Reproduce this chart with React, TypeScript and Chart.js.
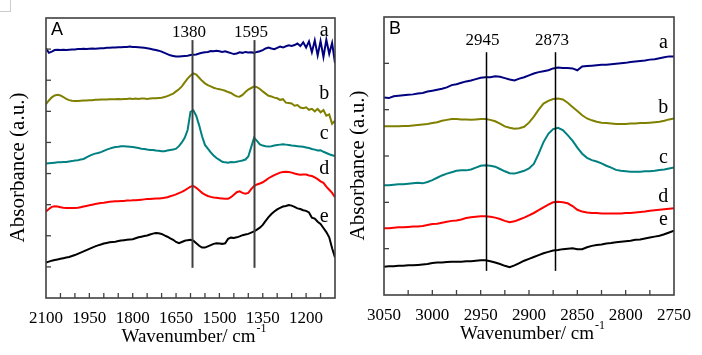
import React, { useEffect, useRef } from "react";
import { Chart, registerables } from "chart.js";
Chart.register(...registerables);

const SERIF = "'Liberation Serif', serif";
const SANS = "'Liberation Sans', sans-serif";
Chart.defaults.font.family = SERIF;

// ---------- Panel A (2100 - 1100 cm-1) ----------
const wavenumbersA = [
  2100, 2090, 2080, 2070, 2060, 2050, 2040, 2030, 2020, 2010,
  2000, 1990, 1980, 1970, 1960, 1950, 1940, 1930, 1920, 1910,
  1900, 1890, 1880, 1870, 1860, 1850, 1840, 1830, 1820, 1810,
  1800, 1790, 1780, 1770, 1760, 1750, 1740, 1730, 1720, 1710,
  1700, 1690, 1680, 1670, 1660, 1650, 1640, 1630, 1620, 1610,
  1600, 1590, 1580, 1570, 1560, 1550, 1540, 1530, 1520, 1510,
  1500, 1490, 1480, 1470, 1460, 1450, 1440, 1430, 1420, 1410,
  1400, 1390, 1380, 1370, 1360, 1350, 1340, 1330, 1320, 1310,
  1300, 1290, 1280, 1270, 1260, 1250, 1240, 1230, 1220, 1210,
  1200, 1190, 1180, 1170, 1160, 1150, 1140, 1130, 1120, 1110,
  1100,
];

const seriesA_a = [
  8.02, 7.88, 7.92, 7.97, 7.98, 7.97, 7.98, 7.97, 7.98, 7.99,
  7.99, 8.0, 8.0, 8.01, 8.0, 8.01, 8.02, 8.01, 8.02, 8.03,
  8.03, 8.04, 8.04, 8.05, 8.05, 8.06, 8.06, 8.07, 8.07, 8.08,
  8.07, 8.07, 8.06, 8.05, 8.04, 8.03, 8.01, 7.99, 7.97, 7.95,
  7.92, 7.88, 7.84, 7.8, 7.78, 7.76, 7.76, 7.77, 7.78, 7.79,
  7.81, 7.82, 7.83, 7.86, 7.88, 7.9, 7.91, 7.94, 7.93, 7.95,
  7.93, 7.91, 7.93, 7.9, 7.87, 7.84, 7.86, 7.9, 7.88, 7.91,
  7.89, 7.9, 7.88, 7.91, 7.93, 7.97, 8.02, 8.05, 8.02, 8.0,
  8.04, 8.08, 8.05, 8.09, 8.12, 8.1, 8.13, 8.18, 8.1, 8.22,
  8.05, 8.25, 7.9, 8.28, 7.8, 8.26, 7.75, 8.3, 7.85, 8.2,
  7.55,
];
const seriesA_b = [
  6.23, 6.35, 6.45, 6.51, 6.53, 6.51, 6.46, 6.4, 6.36, 6.34,
  6.33, 6.33, 6.34, 6.35, 6.35, 6.36, 6.36, 6.37, 6.37, 6.38,
  6.38, 6.38, 6.39, 6.39, 6.39, 6.4, 6.39, 6.4, 6.4, 6.41,
  6.4, 6.41, 6.4, 6.41, 6.41, 6.4, 6.41, 6.42, 6.42, 6.43,
  6.44, 6.46, 6.49, 6.53, 6.57, 6.64, 6.71, 6.8, 6.93, 7.05,
  7.15, 7.22, 7.18, 7.08, 6.98, 6.9, 6.84, 6.8, 6.76, 6.73,
  6.71, 6.69, 6.66, 6.62, 6.59, 6.53, 6.48, 6.47, 6.53, 6.62,
  6.7, 6.75, 6.8, 6.78, 6.72, 6.64, 6.57, 6.5, 6.48, 6.44,
  6.42, 6.37, 6.39, 6.28, 6.27, 6.25, 6.18, 6.2, 6.12, 6.1,
  6.13, 6.05, 6.08, 6.0, 6.08, 5.97, 6.04, 5.86, 5.9, 5.6,
  5.7,
];
const seriesA_c = [
  4.32, 4.33, 4.34, 4.35, 4.36, 4.36, 4.37, 4.37, 4.39, 4.4,
  4.42, 4.43, 4.45, 4.47, 4.52, 4.57, 4.61, 4.64, 4.66, 4.69,
  4.73, 4.77, 4.8, 4.83, 4.85, 4.86, 4.88, 4.88, 4.87, 4.86,
  4.85, 4.84, 4.82, 4.8, 4.79, 4.77, 4.76, 4.76, 4.74, 4.73,
  4.72, 4.72, 4.74, 4.76, 4.77, 4.8, 4.88, 5.0, 5.15, 5.4,
  5.98, 6.03, 5.85, 5.55, 5.2, 4.92, 4.8, 4.68, 4.58, 4.5,
  4.44, 4.38, 4.36, 4.35, 4.37, 4.36, 4.38, 4.4, 4.42, 4.45,
  4.55, 4.85, 5.15, 5.05, 4.94, 4.9, 4.88, 4.87, 4.88, 4.9,
  4.92, 4.93, 4.94, 4.93, 4.92, 4.9, 4.89, 4.88, 4.87, 4.86,
  4.84, 4.82, 4.79, 4.77, 4.74, 4.75, 4.7, 4.66, 4.62, 4.59,
  4.56,
];
const seriesA_d = [
  2.78, 2.86, 2.93, 2.95, 2.94, 2.92, 2.9, 2.89, 2.89, 2.89,
  2.89, 2.9, 2.92, 2.94, 2.96, 2.98, 3.0, 3.02, 3.04, 3.05,
  3.06, 3.08, 3.09, 3.1, 3.11, 3.11, 3.12, 3.12, 3.13, 3.13,
  3.14, 3.14, 3.15, 3.16, 3.17, 3.18, 3.18, 3.19, 3.2, 3.2,
  3.21, 3.22, 3.24, 3.27, 3.3, 3.33, 3.37, 3.41, 3.46, 3.52,
  3.58, 3.6, 3.54, 3.46, 3.38, 3.32, 3.28, 3.25, 3.23, 3.22,
  3.21, 3.2, 3.19, 3.19, 3.24, 3.32, 3.4, 3.43, 3.38, 3.35,
  3.38, 3.5, 3.6, 3.65, 3.68, 3.72, 3.78, 3.85, 3.9, 3.95,
  3.99, 4.03, 4.05, 4.06, 4.05, 4.03, 4.0, 3.98, 3.96, 3.97,
  3.97, 3.94, 3.92, 3.88, 3.82, 3.75, 3.7, 3.58, 3.48, 3.38,
  3.24,
];
const seriesA_e = [
  1.14, 1.17, 1.2, 1.22, 1.24, 1.26, 1.28, 1.3, 1.32, 1.35,
  1.38, 1.42, 1.46, 1.5, 1.54, 1.58, 1.62, 1.66, 1.69, 1.72,
  1.75, 1.77, 1.79, 1.8, 1.81, 1.83, 1.85, 1.86, 1.87, 1.88,
  1.89, 1.92, 1.95, 1.97, 1.99, 2.01, 2.04, 2.07, 2.09, 2.08,
  2.06, 2.01, 1.97, 1.92, 1.87, 1.8, 1.76, 1.8, 1.84, 1.86,
  1.87, 1.84, 1.76, 1.68, 1.62, 1.62, 1.66, 1.7, 1.74, 1.76,
  1.75, 1.74, 1.76, 1.9, 1.94, 1.93, 1.95, 1.98, 2.02, 2.04,
  2.06, 2.1, 2.14, 2.2, 2.26, 2.35, 2.48, 2.6, 2.7, 2.78,
  2.85, 2.9, 2.94, 2.96, 2.99, 2.97, 2.93, 2.88, 2.86, 2.82,
  2.8, 2.75, 2.58, 2.55, 2.45, 2.38, 2.25, 2.12, 1.95, 1.6,
  1.3,
];
const xTickLabelsA = [2100, 1950, 1800, 1650, 1500, 1350, 1200];
const peakLinesA = [1595, 1380];
const peakTextsA = ["1380", "1595"];

// ---------- Panel B (3050 - 2750 cm-1) ----------
const wavenumbersB = [
  3050, 3045, 3040, 3035, 3030, 3025, 3020, 3015, 3010, 3005,
  3000, 2995, 2990, 2985, 2980, 2975, 2970, 2965, 2960, 2955,
  2950, 2945, 2940, 2935, 2930, 2925, 2920, 2915, 2910, 2905,
  2900, 2895, 2890, 2885, 2880, 2875, 2870, 2865, 2860, 2855,
  2850, 2845, 2840, 2835, 2830, 2825, 2820, 2815, 2810, 2805,
  2800, 2795, 2790, 2785, 2780, 2775, 2770, 2765, 2760, 2755,
  2750,
];
const seriesB_a = [
  4.26, 4.25, 4.29, 4.3, 4.31, 4.32, 4.33, 4.35, 4.36, 4.39,
  4.41, 4.43, 4.45, 4.48, 4.53, 4.55, 4.58, 4.61, 4.63, 4.66,
  4.69, 4.7, 4.7, 4.72, 4.71, 4.68, 4.65, 4.63, 4.67, 4.7,
  4.74, 4.78, 4.81, 4.83, 4.85, 4.89, 4.91, 4.9, 4.9, 4.89,
  4.85, 4.93, 4.94, 4.95, 4.96, 4.97, 4.97, 4.98, 4.99, 5.0,
  5.01, 5.03, 5.04, 5.05, 5.06, 5.08, 5.09, 5.11, 5.13, 5.15,
  5.15,
];
const seriesB_b = [
  3.64, 3.64, 3.64, 3.64, 3.65, 3.65, 3.66, 3.67, 3.68, 3.69,
  3.71, 3.73, 3.76, 3.78, 3.8, 3.8, 3.79, 3.79, 3.78, 3.79,
  3.8, 3.8, 3.78, 3.75, 3.7, 3.64, 3.61, 3.59, 3.6, 3.63,
  3.72, 3.85, 4.0, 4.13, 4.19, 4.23, 4.24, 4.22, 4.15, 4.06,
  3.97, 3.88, 3.81, 3.77, 3.74, 3.72, 3.71, 3.7, 3.69, 3.69,
  3.69, 3.7, 3.7, 3.71, 3.71, 3.72, 3.73, 3.74, 3.76, 3.79,
  3.81,
];
const seriesB_c = [
  2.37, 2.37, 2.38, 2.39, 2.39, 2.4, 2.41, 2.42, 2.41, 2.44,
  2.48, 2.53, 2.58, 2.62, 2.65, 2.68, 2.69, 2.69, 2.71, 2.75,
  2.79, 2.8, 2.79, 2.77, 2.72, 2.67, 2.63, 2.62, 2.65, 2.68,
  2.73, 2.83, 3.05, 3.3, 3.48, 3.58, 3.61, 3.56, 3.45, 3.33,
  3.18, 3.05, 2.96, 2.91, 2.88, 2.84, 2.79, 2.75, 2.7, 2.68,
  2.67, 2.66, 2.66, 2.66, 2.67, 2.67, 2.68, 2.7, 2.71, 2.73,
  2.75,
];
const seriesB_d = [
  1.44, 1.44, 1.45, 1.46, 1.46, 1.47, 1.48, 1.48, 1.49, 1.51,
  1.53, 1.54, 1.56, 1.58, 1.6, 1.61, 1.63, 1.66, 1.68, 1.69,
  1.7, 1.7, 1.69, 1.67, 1.64, 1.6, 1.57, 1.59, 1.63, 1.67,
  1.72, 1.77, 1.83, 1.89, 1.95, 2.0, 2.01, 2.0, 1.98, 1.92,
  1.84, 1.8, 1.78, 1.77, 1.77, 1.76, 1.76, 1.76, 1.76, 1.76,
  1.77, 1.77, 1.78, 1.79, 1.8, 1.82, 1.83, 1.84, 1.85, 1.86,
  1.87,
];
const seriesB_e = [
  0.61, 0.62, 0.62, 0.63, 0.63, 0.64, 0.64, 0.65, 0.66, 0.67,
  0.69, 0.7, 0.7, 0.71, 0.72, 0.72, 0.72, 0.73, 0.73, 0.74,
  0.75, 0.75, 0.73, 0.7, 0.67, 0.63, 0.6, 0.64, 0.69, 0.74,
  0.78, 0.82, 0.86, 0.9, 0.93, 0.96, 0.97, 0.99, 1.0, 1.01,
  0.99, 0.99, 1.03, 1.06, 1.08, 1.09, 1.11, 1.12, 1.14, 1.15,
  1.16, 1.17, 1.19, 1.2, 1.22, 1.24, 1.26, 1.28, 1.31, 1.35,
  1.39,
];
const xTickLabelsB = [3050, 3000, 2950, 2900, 2850, 2800, 2750];
const peakLinesB = [2945, 2873];
const peakTextsB = ["2945", "2873"];

const curveNames = ["a", "b", "c", "d", "e"];
const curveColors = ["#000080", "#808000", "#008080", "#ff0000", "#000000"];

// label anchor values (data units)
const letterPosA = { x: 1137, y: [8.42, 6.39, 5.1, 3.97, 2.45] };
const letterPosB = { x: 2761, y: [5.33, 3.92, 2.84, 2.01, 1.51] };

type PanelCfg = {
  id: string;
  panelLetter: string;
  wn: number[];
  series: number[][];
  xMin: number;
  xMax: number;
  xStep: number;
  xLabels: number[];
  yMax: number;
  peaks: number[];
  peakTexts: string[];
  peakFrom: number;
  peakTo: number;
  peakTextY: number;
  peakColor: string;
  peakWidth: number;
  letters: { x: number; y: number[] };
  canvasLeft: number;
  canvasWidth: number;
  areaLeft: number;
  areaRight: number;
  areaTop: number;
  areaBottom: number;
};

const H = 355;

function overlay(cfg: PanelCfg) {
  return {
    id: "overlay" + cfg.id,
    afterDatasetsDraw(chart: any) {
      const ctx = chart.ctx as CanvasRenderingContext2D;
      const { left, right, top, bottom } = chart.chartArea;
      const xs = chart.scales.x;
      const ys = chart.scales.y;
      ctx.save();
      // peak lines
      ctx.strokeStyle = cfg.peakColor;
      ctx.lineWidth = cfg.peakWidth;
      cfg.peaks.forEach((p) => {
        const px = Math.round(xs.getPixelForValue(p)) + 0.5;
        ctx.beginPath();
        ctx.moveTo(px, ys.getPixelForValue(cfg.peakFrom));
        ctx.lineTo(px, ys.getPixelForValue(cfg.peakTo));
        ctx.stroke();
      });
      // frame
      ctx.strokeStyle = "#404040";
      ctx.lineWidth = 1.6;
      ctx.strokeRect(left, top, right - left, bottom - top);
      // inner ticks
      ctx.lineWidth = 1.3;
      xs.ticks.forEach((t: any) => {
        const px = xs.getPixelForValue(t.value);
        if (px < left + 1 || px > right - 1) return;
        ctx.beginPath();
        ctx.moveTo(px, bottom);
        ctx.lineTo(px, bottom - 5);
        ctx.stroke();
      });
      ys.ticks.forEach((t: any) => {
        const py = ys.getPixelForValue(t.value);
        if (py < top + 1 || py > bottom - 1) return;
        ctx.beginPath();
        ctx.moveTo(left, py);
        ctx.lineTo(left + 5, py);
        ctx.stroke();
      });
      ctx.restore();
    },
    afterDraw(chart: any) {
      const ctx = chart.ctx as CanvasRenderingContext2D;
      const { left, right, top, bottom } = chart.chartArea;
      const xs = chart.scales.x;
      const ys = chart.scales.y;
      ctx.save();
      ctx.fillStyle = "#000";
      // peak labels
      ctx.font = `17px ${SERIF}`;
      ctx.textAlign = "center";
      ctx.textBaseline = "alphabetic";
      cfg.peaks.forEach((p, i) => {
        ctx.fillText(cfg.peakTexts[i], xs.getPixelForValue(p) - 3, ys.getPixelForValue(cfg.peakTextY));
      });
      // curve letters
      ctx.font = `20px ${SERIF}`;
      cfg.letters.y.forEach((v, i) => {
        ctx.fillText(curveNames[i], xs.getPixelForValue(cfg.letters.x), ys.getPixelForValue(v));
      });
      // panel letter
      ctx.font = `18px ${SANS}`;
      ctx.textAlign = "left";
      ctx.fillText(cfg.panelLetter, left + 5, top + 17);
      // y title
      ctx.save();
      ctx.font = `21px ${SERIF}`;
      ctx.textAlign = "center";
      ctx.translate(24, (top + bottom) / 2 + 9.5);
      ctx.rotate(-Math.PI / 2);
      ctx.fillText("Absorbance (a.u.)", 0, 0);
      ctx.restore();
      // x title with superscript
      const main = "Wavenumber/ cm";
      const sup = "-1";
      ctx.font = `19px ${SERIF}`;
      const wMain = ctx.measureText(main).width;
      ctx.font = `12px ${SERIF}`;
      const wSup = ctx.measureText(sup).width;
      const cx = (left + right) / 2 + 3;
      const x0 = cx - (wMain + wSup) / 2;
      const base = bottom + 44;
      ctx.textAlign = "left";
      ctx.font = `19px ${SERIF}`;
      ctx.fillText(main, x0, base);
      ctx.font = `12px ${SERIF}`;
      ctx.fillText(sup, x0 + wMain + 1, base - 10);
      ctx.restore();
    },
  };
}

function Panel({ cfg }: { cfg: PanelCfg }) {
  const ref = useRef<HTMLCanvasElement | null>(null);
  useEffect(() => {
    if (!ref.current) return;
    const areaL = cfg.areaLeft - cfg.canvasLeft;
    const areaR = cfg.areaRight - cfg.canvasLeft;
    const chart = new Chart(ref.current, {
      type: "line",
      data: {
        datasets: cfg.series.map((vals, i) => ({
          label: curveNames[i],
          data: cfg.wn.map((x, j) => ({ x, y: vals[j] })),
          borderColor: curveColors[i],
          backgroundColor: curveColors[i],
          borderWidth: 2,
          pointRadius: 0,
          fill: false,
          tension: 0,
        })),
      },
      options: {
        responsive: false,
        animation: false,
        events: [],
        layout: {
          padding: { left: 0, top: cfg.areaTop, right: cfg.canvasWidth - areaR, bottom: 0 },
        },
        plugins: { legend: { display: false }, tooltip: { enabled: false } },
        scales: {
          x: {
            type: "linear",
            reverse: true,
            min: cfg.xMin,
            max: cfg.xMax,
            grid: { display: false, drawTicks: false },
            border: { display: false },
            ticks: {
              stepSize: cfg.xStep,
              autoSkip: false,
              maxRotation: 0,
              padding: 10,
              color: "#000",
              font: { family: SERIF, size: 17 },
              callback: (v: any) => (cfg.xLabels.includes(Number(v)) ? String(v) : ""),
            },
            afterFit: (s: any) => {
              s.height = H - cfg.areaBottom;
            },
          },
          y: {
            min: 0,
            max: cfg.yMax,
            grid: { display: false, drawTicks: false },
            border: { display: false },
            ticks: { stepSize: 1, display: false },
            afterFit: (s: any) => {
              s.width = areaL;
            },
          },
        },
      } as any,
      plugins: [overlay(cfg)],
    });
    return () => chart.destroy();
  }, [cfg]);
  return (
    <canvas
      ref={ref}
      width={cfg.canvasWidth}
      height={H}
      style={{ position: "absolute", left: cfg.canvasLeft, top: 0, width: cfg.canvasWidth, height: H }}
    />
  );
}

const panelA: PanelCfg = {
  id: "A",
  panelLetter: "A",
  wn: wavenumbersA,
  series: [seriesA_a, seriesA_b, seriesA_c, seriesA_d, seriesA_e],
  xMin: 1100,
  xMax: 2100,
  xStep: 50,
  xLabels: xTickLabelsA,
  yMax: 9,
  peaks: peakLinesA,
  peakTexts: peakTextsA,
  peakFrom: 8.29,
  peakTo: 0.97,
  peakTextY: 8.39,
  peakColor: "#404040",
  peakWidth: 2,
  letters: letterPosA,
  canvasLeft: 0,
  canvasWidth: 345,
  areaLeft: 46,
  areaRight: 339,
  areaTop: 18,
  areaBottom: 298,
};

const panelB: PanelCfg = {
  id: "B",
  panelLetter: "B",
  wn: wavenumbersB,
  series: [seriesB_a, seriesB_b, seriesB_c, seriesB_d, seriesB_e],
  xMin: 2750,
  xMax: 3050,
  xStep: 25,
  xLabels: xTickLabelsB,
  yMax: 6,
  peaks: peakLinesB,
  peakTexts: peakTextsB,
  peakFrom: 5.24,
  peakTo: 0.52,
  peakTextY: 5.4,
  peakColor: "#000000",
  peakWidth: 1.5,
  letters: letterPosB,
  canvasLeft: 340,
  canvasWidth: 362,
  areaLeft: 384,
  areaRight: 674,
  areaTop: 17,
  areaBottom: 295,
};

export default function App() {
  return (
    <div
      style={{
        position: "fixed",
        left: 0,
        top: 0,
        width: 702,
        height: H,
        background: "#ffffff",
        overflow: "hidden",
      }}
    >
      <div
        style={{
          position: "absolute",
          left: 0,
          top: 0,
          width: 10,
          height: 11,
          borderRight: "1px solid #cccccc",
          borderBottom: "1px solid #cccccc",
        }}
      />
      <Panel cfg={panelA} />
      <Panel cfg={panelB} />
    </div>
  );
}
